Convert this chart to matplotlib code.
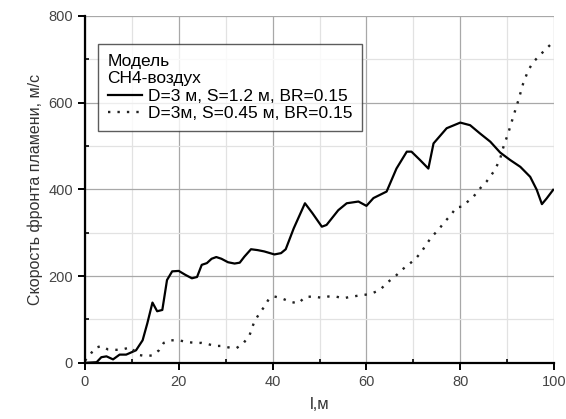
import numpy as np
import matplotlib
matplotlib.use('Agg')
import matplotlib.pyplot as plt
from matplotlib.ticker import MultipleLocator

plt.rcParams['font.family'] = ['Liberation Sans', 'DejaVu Sans']

# Solid curve: S=1.2 m
x1 = [0, 2.5, 3.5, 4.6, 6, 7.4, 8.8, 10.9, 12.3, 13.3, 14.4, 15.4, 16.5, 17.5, 18.6,
      20, 21.4, 22.8, 23.9, 24.9, 26, 27, 28, 29.1, 30.5, 31.9, 33, 34, 35.4, 36.8,
      38.2, 40.4, 41.8, 42.8, 44.5, 46.9, 48.5, 50.5, 51.5, 54, 55.8, 58.3, 60, 61.5,
      64.3, 66.4, 68.6, 69.6, 71.4, 73.2, 74.3, 77.1, 80, 82.1, 84.2, 86.4, 88.5,
      90.6, 92.8, 94.9, 96.3, 97.4, 98.4, 99.8]
y1 = [0, 1.5, 13, 15, 8, 19, 19, 29, 52, 91, 139, 119, 122, 191, 211,
      212, 203, 195, 198, 226, 230, 240, 244, 240, 232, 229, 231, 245, 262, 260,
      257, 250, 253, 262, 310, 368, 345, 314, 318, 352, 368, 372, 362, 380,
      395, 448, 487, 487, 468, 448, 506, 541, 554, 548, 529, 510, 485,
      468, 452, 429, 399, 366, 379, 399]

# Dotted curve: S=0.45 m
x2 = [0, 1, 2.1, 3.5, 4.9, 6.7, 8, 9.8, 11.2, 12.6, 14.4, 15.8, 16.8, 18.2, 20,
      21.8, 23.5, 24.9, 26.3, 27.7, 29.1, 30.9, 32.3, 33.7, 35.1, 36.1, 37.2, 38.2,
      39.3, 40.4, 41.9, 43.7, 45.5, 46.9, 48.7, 50.5, 51.9, 53.4, 55.1, 56.5, 58.3,
      59.7, 61.1, 62.9, 64.3, 66.1, 67.5, 68.9, 70.4, 71.8, 72.8, 74.1, 75.3, 76.5,
      78, 79.2, 80.3, 82.8, 84.2, 85.6, 87.4, 88.5, 89.2, 90.2, 91.3, 92.4, 93.4,
      94.5, 95.6, 97, 98.4, 99.8]
y2 = [5, 17, 34, 39, 31, 30, 31, 36, 19, 16, 17, 29, 46, 52, 52,
      48, 46, 46, 43, 39, 39, 35, 34, 44, 64, 95, 114, 129,
      149, 153, 149, 141, 137, 152, 153, 150, 153, 153, 149, 152, 155,
      157, 160, 168, 184, 199, 214, 226, 239, 257, 274, 293, 306, 323,
      341, 359, 360, 383, 402, 418, 445, 471, 498, 529, 568, 606, 644,
      675, 694, 710, 725, 740]

legend_title = 'Модель\nСН4-воздух'
labels = ['D=3 м, S=1.2 м, BR=0.15', 'D=3м, S=0.45 м, BR=0.15']

fig = plt.figure(figsize=(5.66, 4.19), dpi=100)
ax = fig.add_axes([0.150, 0.134, 0.829, 0.828])

ax.plot(x1, y1, color='black', lw=1.6, label=labels[0])
ax.plot(x2, y2, color='#222222', lw=1.7, linestyle=(0, (1, 3)), label=labels[1])

ax.set_xlim(0, 100)
ax.set_ylim(0, 800)
ax.xaxis.set_major_locator(MultipleLocator(20))
ax.xaxis.set_minor_locator(MultipleLocator(10))
ax.yaxis.set_major_locator(MultipleLocator(200))
ax.yaxis.set_minor_locator(MultipleLocator(100))
ax.grid(which='major', color='#a8a8a8', lw=0.9)
ax.grid(which='minor', color='#e2e2e2', lw=0.9)
ax.set_axisbelow(True)

for s in ['top', 'right']:
    ax.spines[s].set_visible(False)
for s in ['left', 'bottom']:
    ax.spines[s].set_linewidth(1.6)
ax.tick_params(which='major', direction='out', length=5, width=1.4, labelsize=10.5,
               labelcolor='#444444')
ax.tick_params(which='minor', direction='in', length=3, width=1.2)

ax.set_xlabel('l,м', fontsize=12, color='#333333', labelpad=6)
ax.set_ylabel('Скорость фронта пламени, м/с', fontsize=11.5, color='#333333')

leg = ax.legend(title=legend_title, loc='upper left', bbox_to_anchor=(0.028, 0.919),
                fontsize=12.5, title_fontsize=12.5, alignment='left', frameon=True,
                fancybox=False, handlelength=2.0, borderpad=0.55, labelspacing=0.15,
                handletextpad=0.3, borderaxespad=0)
leg.get_frame().set_edgecolor('#333333')
leg.get_frame().set_linewidth(1.0)

fig.savefig('out.png', dpi=100)
